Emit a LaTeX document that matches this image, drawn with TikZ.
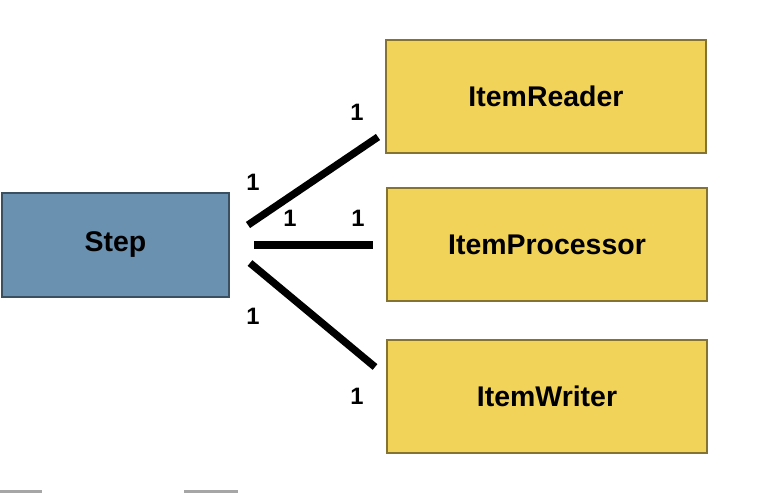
\documentclass[tikz,border=0pt]{standalone}
\usepackage{fontspec}
\setmainfont{Liberation Sans}
\begin{document}
\begin{tikzpicture}[x=0.02cm,y=-0.02cm,
  box/.style={draw=#1!55!black,line width=0.8pt,inner sep=0pt,font=\fontsize{16.2}{19}\selectfont\bfseries,text=black},
  stepbox/.style={box=stepblue,fill=stepblue,minimum width=227*0.02cm,minimum height=104*0.02cm},
  itembox/.style={box=itemyellow,fill=itemyellow,minimum width=320*0.02cm,minimum height=113*0.02cm},
  link/.style={line width=4.2pt},
  mult/.style={font=\fontsize{13.5}{15}\selectfont\bfseries,inner sep=0pt}]
\definecolor{stepblue}{HTML}{6A91B0}
\definecolor{itemyellow}{HTML}{F2D35A}
\useasboundingbox (0,0) rectangle (767,493);
\node[stepbox] (step) at (115.5,245) {Step};
\node[itembox] (reader) at (546,96.5) {ItemReader};
\node[itembox] (proc) at (547,244.5) {ItemProcessor};
\node[itembox] (writer) at (547,396.5) {ItemWriter};
\coordinate (a1) at (248,225); \coordinate (b1) at (378,137);
\coordinate (a2) at (254,245); \coordinate (b2) at (373,245);
\coordinate (a3) at (250,263); \coordinate (b3) at (375,367);
\draw[link] (a1) -- (b1);
\draw[link] (a2) -- (b2);
\draw[link] (a3) -- (b3);
\node[mult] (m1) at (253,182) {1};
\node[mult] (m2) at (357,112) {1};
\node[mult] (m3) at (290,218) {1};
\node[mult] (m4) at (358,218) {1};
\node[mult] (m5) at (253,316) {1};
\node[mult] (m6) at (357,396) {1};
\fill[black!35] (0,490) rectangle (42,493);
\fill[black!35] (184,490) rectangle (238,493);
\end{tikzpicture}
\end{document}
